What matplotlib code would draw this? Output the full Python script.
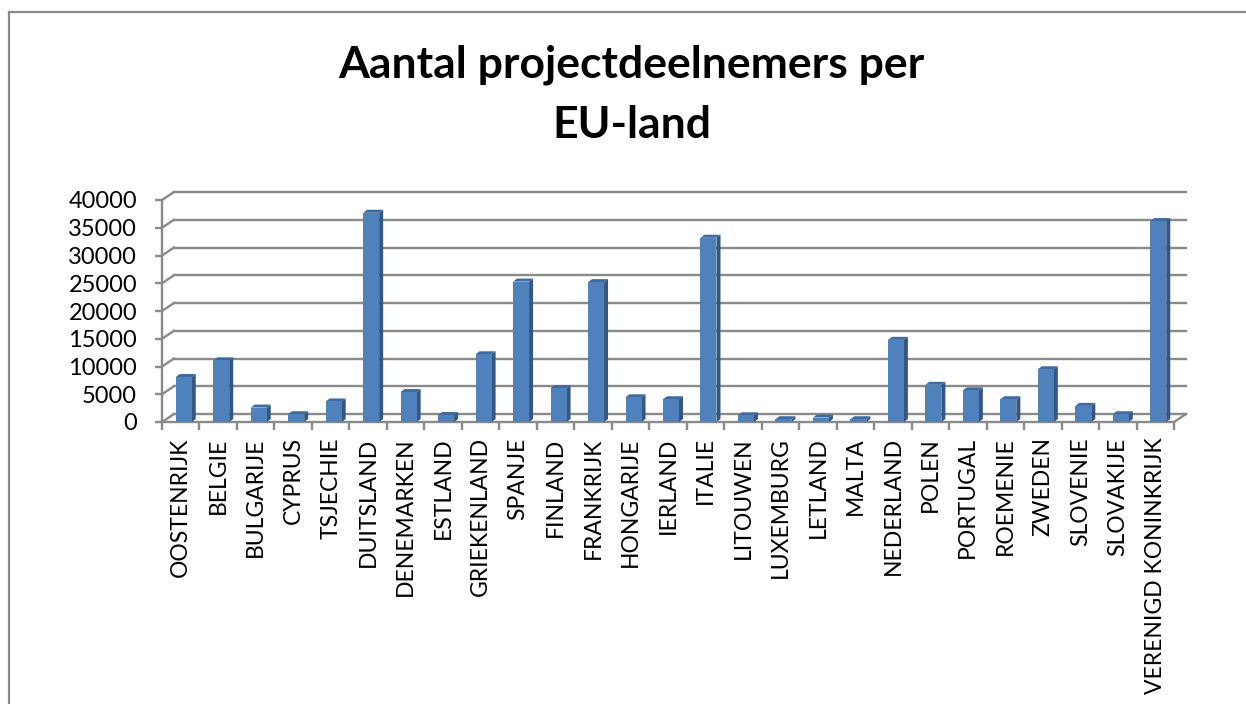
import numpy as np
import matplotlib
matplotlib.use("Agg")
import matplotlib.pyplot as plt
from matplotlib.patches import Polygon
from matplotlib.lines import Line2D

plt.rcParams['font.family'] = ['Lato', 'DejaVu Sans']

# data
landen = ['OOSTENRIJK', 'BELGIE', 'BULGARIJE', 'CYPRUS', 'TSJECHIE', 'DUITSLAND',
          'DENEMARKEN', 'ESTLAND', 'GRIEKENLAND', 'SPANJE', 'FINLAND', 'FRANKRIJK',
          'HONGARIJE', 'IERLAND', 'ITALIE', 'LITOUWEN', 'LUXEMBURG', 'LETLAND',
          'MALTA', 'NEDERLAND', 'POLEN', 'PORTUGAL', 'ROEMENIE', 'ZWEDEN',
          'SLOVENIE', 'SLOVAKIJE', 'VERENIGD KONINKRIJK']
deelnemers = [8100, 11100, 2600, 1400, 3700, 37700,
              5400, 1250, 12200, 25300, 6100, 25200,
              4450, 4100, 33200, 1200, 500, 800,
              500, 14800, 6700, 5700, 4100, 9500,
              2900, 1400, 36200]
y_ticks = [0, 5000, 10000, 15000, 20000, 25000, 30000, 35000, 40000]

W, H = 1246, 704
fig = plt.figure(figsize=(W / 100, H / 100), dpi=100)

# chart border (runs off the bottom/right of the picture)
grey = '#8a8a8a'
fig.add_artist(Line2D([9 / W, 9 / W], [0, 1 - 12 / H], color=grey, lw=1.6))
fig.add_artist(Line2D([9 / W, 1], [1 - 12 / H, 1 - 12 / H], color=grey, lw=1.6))

fig.text(0.507, 1 - 65 / H, 'Aantal projectdeelnemers per', ha='center', va='center',
         fontsize=32, fontweight='bold')
fig.text(0.507, 1 - 125 / H, 'EU-land', ha='center', va='center',
         fontsize=32, fontweight='bold')

ax = fig.add_axes([162 / W, 282 / H, 1012 / W, 222 / H])
n = len(landen)
ax.set_xlim(-0.5, n - 0.5)
ax.set_ylim(0, 40000)

# depth of the back wall, in data units
px_x = n / 1012.0
px_y = 40000 / 222.0
dx, dy = 12 * px_x, 8 * px_y

gl = dict(color=grey, lw=1.7, clip_on=False, zorder=1)
for v in y_ticks:
    ax.plot([-0.5 + dx, n - 0.5 + dx], [v + dy, v + dy], **gl)
    ax.plot([-0.5, -0.5 + dx], [v, v + dy], **gl)
ax.plot([n - 0.5, n - 0.5 + dx], [0, dy], **gl)

# 3D-looking columns
bw = 16 * px_x
bdx, bdy = 4 * px_x, 3 * px_y
off = 0.08
for i, v in enumerate(deelnemers):
    x0 = i - bw / 2 + off
    x1 = x0 + bw
    ax.add_patch(Polygon([(x1, 0), (x1, v), (x1 + bdx, v + bdy), (x1 + bdx, bdy)],
                         closed=True, facecolor='#34567f', edgecolor='none',
                         clip_on=False, zorder=3))
    ax.add_patch(Polygon([(x0, v), (x1, v), (x1 + bdx, v + bdy), (x0 + bdx, v + bdy)],
                         closed=True, facecolor='#3f6a9e', edgecolor='none',
                         clip_on=False, zorder=3))
    ax.bar(i + off, v, width=bw, color='#4f81bd', zorder=4, clip_on=False)

for s in ['top', 'right']:
    ax.spines[s].set_visible(False)
for s in ['left', 'bottom']:
    ax.spines[s].set_color(grey)
    ax.spines[s].set_linewidth(1.7)

ax.set_yticks(y_ticks)
ax.set_yticklabels([str(v) for v in y_ticks])
ax.tick_params(axis='y', length=5, width=1.7, color=grey, pad=13, labelsize=17)

ax.set_xticks(np.arange(-0.5, n, 1))
ax.set_xticklabels([])
ax.tick_params(axis='x', which='major', length=6, width=1.7, color=grey)
ax.set_xticks(np.arange(n), minor=True)
ax.set_xticklabels(landen, minor=True, rotation=90, fontsize=16.5)
ax.tick_params(axis='x', which='minor', length=0, pad=11)

fig.savefig('out.png', dpi=100)
